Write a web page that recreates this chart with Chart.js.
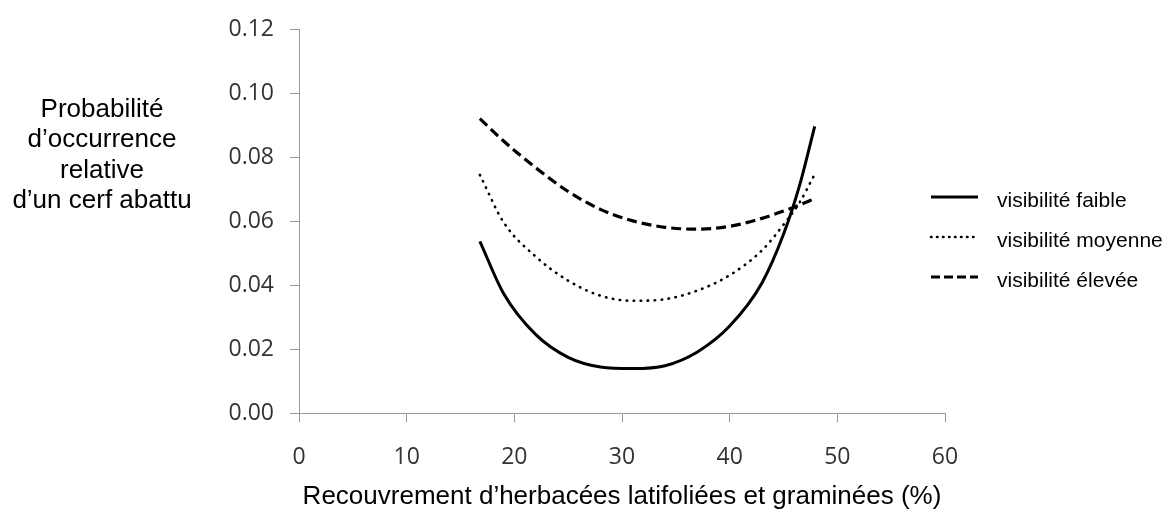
<!DOCTYPE html>
<html>
<head>
<meta charset="utf-8">
<script src="https://cdn.jsdelivr.net/npm/chart.js@4/dist/chart.umd.min.js"></script>
<style>
  html, body { margin: 0; padding: 0; background: #fff; }
  #wrap { width: 1176px; height: 514px; }
</style>
</head>
<body>
<div id="wrap"><canvas id="chart" width="1176" height="514"></canvas></div>
<script>
var recouvrement = [16.8, 19, 22, 25, 28, 31, 34, 37, 40, 43, 45, 46.5, 47.9];

// probabilité relative, one list per visibility class
var faible  = [0.0538, 0.0375, 0.0246, 0.0175, 0.0145, 0.0140, 0.0149, 0.0192, 0.0273, 0.0408, 0.0560, 0.0714, 0.0898];
var moyenne = [0.0746, 0.0598, 0.0490, 0.0415, 0.0368, 0.0352, 0.0357, 0.0384, 0.0432, 0.0510, 0.0590, 0.0660, 0.0748];
var elevee  = [0.0922, 0.0852, 0.0768, 0.0694, 0.0638, 0.0602, 0.0582, 0.0576, 0.0585, 0.0610, 0.0633, 0.0652, 0.0672];

var seriesNames = ['visibilité faible', 'visibilité moyenne', 'visibilité élevée'];
var yTitleLines = ['Probabilité', 'd\u2019occurrence', 'relative', 'd\u2019un cerf abattu'];
var xTitle = 'Recouvrement d\u2019herbacées latifoliées et graminées (%)';

function points(ys) {
    return recouvrement.map(function (x, i) { return { x: x, y: ys[i] }; });
}

// y title (horizontal, several lines) and the legend on the right
var sideText = {
    id: 'sideText',
    afterDraw: function (chart) {
        var ctx = chart.ctx;
        ctx.save();
        ctx.fillStyle = '#000';
        ctx.font = '26px "Liberation Sans", Arial, sans-serif';
        ctx.textAlign = 'center';
        ctx.textBaseline = 'alphabetic';
        var base = [116.5, 147, 177.5, 208];
        yTitleLines.forEach(function (t, i) { ctx.fillText(t, 102, base[i]); });

        var rows = [197, 237, 277];
        chart.data.datasets.forEach(function (ds, i) {
            ctx.beginPath();
            ctx.lineWidth = ds.borderWidth;
            ctx.strokeStyle = ds.borderColor;
            ctx.lineCap = ds.borderCapStyle || 'butt';
            ctx.setLineDash(ds.legendDash || []);
            ctx.moveTo(931, rows[i]);
            ctx.lineTo(978, rows[i]);
            ctx.stroke();
            ctx.setLineDash([]);
            ctx.font = '21px "Liberation Sans", Arial, sans-serif';
            ctx.textAlign = 'left';
            ctx.fillText(ds.label, 997, rows[i] + 9.5);
        });
        ctx.restore();
    }
};

var ctx = document.getElementById('chart').getContext('2d');
var myChart = new Chart(ctx, {
    type: 'line',
    data: {
        datasets: [{
            label: seriesNames[0],
            data: points(faible),
            borderColor: '#000',
            borderWidth: 3,
            legendDash: []
        }, {
            label: seriesNames[1],
            data: points(moyenne),
            borderColor: '#000',
            borderWidth: 2.6,
            borderDash: [0.5, 6.5],
            borderCapStyle: 'round',
            legendDash: [0.5, 5.5]
        }, {
            label: seriesNames[2],
            data: points(elevee),
            borderColor: '#000',
            borderWidth: 3.2,
            borderDash: [10, 5],
            legendDash: [9, 4]
        }]
    },
    options: {
        responsive: false,
        animation: false,
        layout: { padding: { left: 0, top: 19, right: 231, bottom: 0 } },
        elements: {
            point: { radius: 0, hoverRadius: 0 },
            line: { cubicInterpolationMode: 'monotone', fill: false }
        },
        plugins: {
            legend: { display: false },
            tooltip: { enabled: false }
        },
        scales: {
            x: {
                type: 'linear',
                min: 0,
                max: 60,
                ticks: {
                    stepSize: 10,
                    padding: 21,
                    color: '#333',
                    font: { family: '"Open Sans", sans-serif', size: 23 }
                },
                grid: { drawOnChartArea: false, tickLength: 9, color: '#999', tickColor: '#999' },
                border: { color: '#999', width: 1 },
                title: {
                    display: true,
                    text: xTitle,
                    color: '#000',
                    padding: { top: 0, bottom: 6 },
                    font: { family: '"Liberation Sans", Arial, sans-serif', size: 26, lineHeight: 0.85 }
                },
                afterFit: function (scale) { scale.height = 100.7; }
            },
            y: {
                min: 0,
                max: 0.12,
                ticks: {
                    stepSize: 0.02,
                    padding: 16,
                    color: '#333',
                    font: { family: '"Open Sans", sans-serif', size: 23 },
                    callback: function (v) { return v.toFixed(2); }
                },
                grid: { drawOnChartArea: false, tickLength: 9, color: '#999', tickColor: '#999' },
                border: { color: '#999', width: 1 },
                afterFit: function (scale) { scale.width = 299; }
            }
        }
    },
    plugins: [sideText]
});
</script>
</body>
</html>
